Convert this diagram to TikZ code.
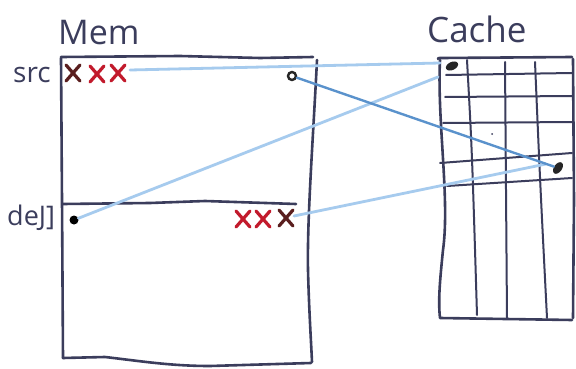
\documentclass[tikz,border=0pt]{standalone}
\usepackage{fontspec}
\setmainfont{Open Sans}
\usetikzlibrary{calc,shapes.geometric}
\definecolor{ink}{HTML}{3B3D5C}
\definecolor{lblue}{HTML}{A6CBEE}
\definecolor{dblue}{HTML}{5A92CC}
\definecolor{xred}{HTML}{C21A2C}
\definecolor{xdark}{HTML}{5A1E1E}
\tikzset{
  pen/.style={draw=ink, line width=2.6pt, line cap=round, line join=round},
  grid/.style={draw=ink, line width=2pt, line cap=round},
  wire/.style={draw=lblue, line width=2.8pt, line cap=round},
  dwire/.style={draw=dblue, line width=2.4pt, line cap=round},
  lbl/.style={text=ink, inner sep=0pt, anchor=base west},
  blob/.style={fill=black!85, ellipse, inner sep=0pt, minimum width=13pt, minimum height=8pt, draw=none},
  xstroke/.style={line width=3.2pt, line cap=round}
}
\newcommand{\crossat}[3]{%
  \coordinate (#1) at #2;
  \draw[xstroke, draw=#3] ($(#1)+(-7,-8)$) -- ($(#1)+(7,8)$);
  \draw[xstroke, draw=#3] ($(#1)+(7,-8)$) -- ($(#1)+(-7,8)$);
}
\begin{document}
\begin{tikzpicture}[x=1pt,y=-1pt]
\path[use as bounding box, fill=white] (0,0) rectangle (576,369);

% labels
\node[lbl, font=\fontsize{34}{34}\selectfont] (mem) at (58,45) {Mem};
\node[lbl, font=\fontsize{35}{35}\selectfont] (cache) at (427,43) {Cache};
\node[lbl, font=\fontsize{28}{28}\selectfont] (src) at (13,82) {src};
\node[lbl, font=\fontsize{27}{27}\selectfont] (dst) at (7,225) {deJ]};

% memory box
\draw[pen] (61,57) -- (180,56) -- (260,58) -- (313,57);
\draw[pen] (317,60) .. controls (313,140) and (307,220) .. (308,270) .. controls (309,310) and (311,340) .. (312,362);
\draw[pen] (61,58) -- (62,200) -- (63,358);
\draw[pen] (63,358) -- (105,357) .. controls (140,361) and (170,366) .. (210,366) -- (311,363);
\draw[pen] (63,204) -- (150,203) -- (205,201) -- (296,204);

% cache box
\draw[pen] (438,59) .. controls (438,58) .. (442,58) -- (572,57);
\draw[pen] (573,59) -- (574,200) -- (573,318);
\draw[pen] (440,60) .. controls (437,120) and (450,200) .. (443,250) .. controls (440,280) and (438,300) .. (440,318) -- (572,320);
% grid rows
\draw[grid] (446,75) -- (572,73);
\draw[grid] (445,97) -- (572,96);
\draw[grid] (443,123) -- (572,122);
\draw[grid] (440,163) -- (572,153);
\draw[grid] (447,186) -- (572,178);
% grid columns
\draw[grid] (467,60) .. controls (472,150) .. (477,315);
\draw[grid] (505,62) -- (507,318);
\draw[grid] (535,62) .. controls (540,180) .. (547,318);
\fill[ink] (492,134) circle (1pt);

% dots
\node[blob, rotate=25] (cA) at (452,66) {};
\node[blob, rotate=55] (cB) at (558,168) {};
\node[circle, draw=black!85, line width=2.4pt, fill=white, inner sep=0pt, minimum size=8pt] (sdot) at (292,76) {};
\node[circle, fill=black, inner sep=0pt, minimum size=9pt] (ddot) at (74,220) {};

% crosses
\crossat{sx1}{(73,73)}{xdark}
\crossat{sx2}{(97,74)}{xred}
\crossat{sx3}{(118,73)}{xred}
\crossat{dx1}{(243,219)}{xred}
\crossat{dx2}{(263,219)}{xred}
\crossat{dx3}{(286,218)}{xdark}

% wires
\coordinate (sx3e) at (130,70);
\coordinate (dx3e) at (294,216);
\coordinate (cAin) at (440,63);
\coordinate (cAin2) at (438,77);
\coordinate (cBin) at (546,164);
\draw[wire] (sx3e) -- (cAin);
\draw[wire] (ddot) -- (cAin2);
\draw[wire] (dx3e) -- (cBin);
\draw[dwire] (sdot) -- (cB);
\end{tikzpicture}
\end{document}
